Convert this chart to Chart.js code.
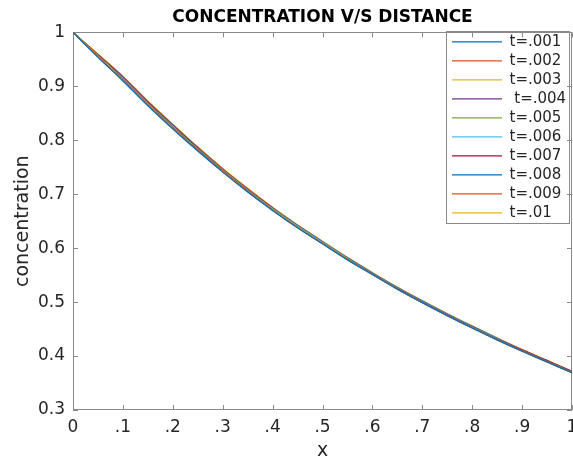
<!DOCTYPE html>
<html>
<head>
<meta charset="utf-8">
<script src="https://cdn.jsdelivr.net/npm/chart.js@4/dist/chart.umd.min.js"></script>
<style>
  html, body { margin: 0; padding: 0; background: #fff; }
  canvas { display: block; }
</style>
</head>
<body>
<canvas id="chart-conc" width="573" height="459"></canvas>
<script>
// ─── Concentration vs distance ───────────────────────────────────────────────

const xs = [0, .05, .1, .15, .2, .25, .3, .35, .4, .45, .5, .55, .6, .65, .7, .75, .8, .85, .9, .95, 1];

const t001 = [1.000, 0.954, 0.910, 0.864, 0.821, 0.780, 0.741, 0.704, 0.670, 0.638, 0.608, 0.578, 0.551, 0.524, 0.499, 0.475, 0.452, 0.430, 0.409, 0.389, 0.369];
const t002 = [1.000, 0.955, 0.911, 0.865, 0.822, 0.781, 0.742, 0.705, 0.670, 0.638, 0.608, 0.579, 0.551, 0.524, 0.499, 0.475, 0.452, 0.430, 0.409, 0.389, 0.369];
const t003 = [1.000, 0.956, 0.912, 0.866, 0.823, 0.781, 0.742, 0.705, 0.671, 0.639, 0.609, 0.579, 0.551, 0.524, 0.499, 0.475, 0.452, 0.430, 0.409, 0.389, 0.369];
const t004 = [1.000, 0.956, 0.913, 0.867, 0.824, 0.782, 0.743, 0.706, 0.671, 0.639, 0.609, 0.579, 0.552, 0.525, 0.500, 0.476, 0.453, 0.431, 0.410, 0.390, 0.370];
const t005 = [1.000, 0.957, 0.914, 0.868, 0.825, 0.783, 0.744, 0.707, 0.672, 0.640, 0.610, 0.580, 0.552, 0.525, 0.500, 0.476, 0.453, 0.431, 0.410, 0.390, 0.370];
const t006 = [1.000, 0.957, 0.915, 0.869, 0.826, 0.784, 0.745, 0.708, 0.673, 0.641, 0.611, 0.581, 0.553, 0.526, 0.501, 0.477, 0.454, 0.432, 0.410, 0.390, 0.370];
const t007 = [1.000, 0.958, 0.916, 0.870, 0.827, 0.785, 0.746, 0.709, 0.674, 0.641, 0.611, 0.581, 0.553, 0.526, 0.501, 0.477, 0.454, 0.432, 0.411, 0.391, 0.371];
const t008 = [1.000, 0.958, 0.917, 0.871, 0.828, 0.786, 0.746, 0.709, 0.674, 0.642, 0.612, 0.582, 0.554, 0.527, 0.502, 0.478, 0.455, 0.433, 0.411, 0.391, 0.371];
const t009 = [1.000, 0.959, 0.918, 0.872, 0.829, 0.787, 0.747, 0.710, 0.675, 0.643, 0.612, 0.582, 0.554, 0.527, 0.502, 0.478, 0.455, 0.433, 0.412, 0.392, 0.372];
const t010 = [1.000, 0.960, 0.919, 0.873, 0.830, 0.788, 0.748, 0.711, 0.676, 0.643, 0.613, 0.583, 0.555, 0.528, 0.503, 0.479, 0.456, 0.434, 0.412, 0.392, 0.372];

const seriesNames = ["t=.001", "t=.002", "t=.003", " t=.004", "t=.005", "t=.006", "t=.007", "t=.008", "t=.009", "t=.01"];
const seriesValues = [t001, t002, t003, t004, t005, t006, t007, t008, t009, t010];
const seriesColors = ["#0072BD", "#D95319", "#EDB120", "#7E2F8E", "#77AC30", "#4DBEEE", "#A2142F", "#0072BD", "#D95319", "#EDB120"];

const xTickLabels = ["0", ".1", ".2", ".3", ".4", ".5", ".6", ".7", ".8", ".9", "1"];
const yTickLabels = ["0.3", "0.4", "0.5", "0.6", "0.7", "0.8", "0.9", "1"];

const FONT = "'DejaVu Sans', sans-serif";
const INK = "#262626";
const AXIS = "#8a8a8a";

// legend lives inside the plot, top right, like matlab's "northeast"
const legendInside = {
  id: "legendInside",
  afterLayout(chart) {
    const lg = chart.legend;
    const area = chart.chartArea;
    lg.left = 448;
    lg.right = 569;
    lg.top = area.top - 2;
    lg.bottom = area.bottom;
  },
  beforeDraw(chart) {
    // legend panel goes under the legend items
    const { ctx } = chart;
    ctx.save();
    ctx.strokeStyle = AXIS;
    ctx.lineWidth = 1;
    ctx.strokeRect(446.5, 31.5, 123, 192);
    ctx.restore();
  },
  beforeDatasetsDraw(chart) {
    // box + inward ticks on all four sides
    const { ctx, chartArea: a, scales } = chart;
    ctx.save();
    ctx.strokeStyle = AXIS;
    ctx.lineWidth = 1;
    ctx.strokeRect(Math.round(a.left) + 0.5, Math.round(a.top) + 0.5,
      Math.round(a.right - a.left) - 1, Math.round(a.bottom - a.top) - 1);
    const tl = 5;
    ctx.beginPath();
    scales.x.ticks.forEach(t => {
      const px = Math.round(scales.x.getPixelForValue(t.value)) + 0.5;
      ctx.moveTo(px, a.bottom); ctx.lineTo(px, a.bottom - tl);
      ctx.moveTo(px, a.top); ctx.lineTo(px, a.top + tl);
    });
    scales.y.ticks.forEach(t => {
      const py = Math.round(scales.y.getPixelForValue(t.value)) + 0.5;
      ctx.moveTo(a.left, py); ctx.lineTo(a.left + tl, py);
      ctx.moveTo(a.right, py); ctx.lineTo(a.right - tl, py);
    });
    ctx.stroke();
    ctx.restore();
  },
};

new Chart(document.getElementById("chart-conc"), {
  type: "line",
  data: {
    datasets: seriesValues.map((vals, i) => ({
      label: seriesNames[i],
      data: xs.map((x, j) => ({ x, y: vals[j] })),
      borderColor: seriesColors[i],
      backgroundColor: seriesColors[i],
      borderWidth: 1.2,
      pointRadius: 0,
      cubicInterpolationMode: "monotone",
      fill: false,
    })),
  },
  options: {
    responsive: false,
    animation: false,
    devicePixelRatio: 1,
    layout: { padding: { right: 1 } },
    plugins: {
      title: {
        display: true,
        text: "CONCENTRATION V/S DISTANCE",
        fullSize: false,
        color: "#000",
        font: { family: FONT, size: 17, weight: "bold" },
        padding: { top: 7, bottom: 5 },
      },
      legend: {
        position: "chartArea",
        align: "start",
        labels: {
          color: INK,
          font: { family: FONT, size: 15 },
          usePointStyle: true,
          pointStyle: "line",
          pointStyleWidth: 50,
          padding: 4,
        },
      },
      tooltip: { enabled: false },
    },
    scales: {
      x: {
        type: "linear",
        min: 0,
        max: 1,
        afterFit: s => { s.height = 49; s.paddingLeft = 0; s.paddingRight = 0; },
        afterBuildTicks: s => { s.ticks = xTickLabels.map((_, i) => ({ value: i / 10 })); },
        grid: { display: false, drawTicks: false },
        border: { display: false },
        ticks: {
          color: INK,
          font: { family: FONT, size: 17 },
          padding: 7,
          maxRotation: 0,
          autoSkip: false,
          callback: (v, i) => xTickLabels[i],
        },
        title: {
          display: true,
          text: "x",
          color: INK,
          font: { family: FONT, size: 19 },
          padding: { top: 0, bottom: -3 },
        },
      },
      y: {
        min: 0.3,
        max: 1,
        afterFit: s => { s.width = 73; s.paddingTop = 0; s.paddingBottom = 0; },
        afterBuildTicks: s => { s.ticks = yTickLabels.map((_, i) => ({ value: 0.3 + i / 10 })); },
        grid: { display: false, drawTicks: false },
        border: { display: false },
        ticks: {
          color: INK,
          font: { family: FONT, size: 17 },
          padding: 8,
          autoSkip: false,
          callback: (v, i) => yTickLabels[i],
        },
        title: {
          display: true,
          text: "concentration",
          color: INK,
          font: { family: FONT, size: 19 },
          padding: { top: 12, bottom: 0 },
        },
      },
    },
  },
  plugins: [legendInside],
});
</script>
</body>
</html>
